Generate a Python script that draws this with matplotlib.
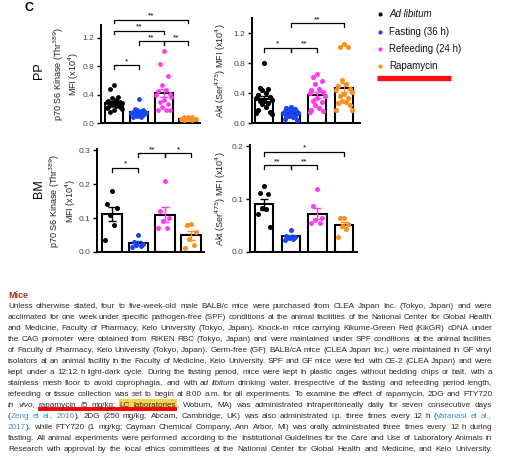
import math
import numpy as np
import matplotlib
matplotlib.use('Agg')
import matplotlib.pyplot as plt
from matplotlib.patches import Rectangle
from matplotlib.font_manager import FontProperties

plt.rcParams['font.family'] = ['Liberation Sans', 'DejaVu Sans']

groups = ['Ad libitum', 'Fasting (36 h)', 'Refeeding (24 h)', 'Rapamycin']
colors = ['#000000', '#1a45f0', '#ff3df2', '#ff8f1f']

# PP, p70 S6 kinase (x10^4)
pp_s6k_adlib = [0.53, 0.48, 0.36, 0.35, 0.33, 0.31, 0.30, 0.29, 0.28, 0.28,
                0.27, 0.26, 0.25, 0.24, 0.23, 0.22, 0.21, 0.20, 0.18, 0.15]
pp_s6k_fast = [0.34, 0.20, 0.19, 0.18, 0.17, 0.16, 0.15, 0.14, 0.14, 0.13,
               0.12, 0.11, 0.10, 0.09, 0.08]
pp_s6k_refeed = [1.01, 0.83, 0.66, 0.53, 0.47, 0.45, 0.41, 0.39, 0.37, 0.33,
                 0.30, 0.27, 0.22, 0.19, 0.19, 0.19]
pp_s6k_rapa = [0.09, 0.08, 0.08, 0.07, 0.07, 0.06, 0.06, 0.05, 0.05, 0.05, 0.04, 0.04]
pp_s6k_sig = [(0, 1, 0.81, '*'), (1, 2, 1.15, '**'), (2, 3, 1.15, '**'),
              (0, 2, 1.30, '**'), (0, 3, 1.455, '**')]

# PP, Akt (x10^4)
pp_akt_adlib = [0.80, 0.47, 0.46, 0.44, 0.40, 0.38, 0.35, 0.33, 0.31, 0.30,
                0.29, 0.27, 0.25, 0.22, 0.18, 0.15, 0.13, 0.12]
pp_akt_fast = [0.22, 0.20, 0.19, 0.18, 0.17, 0.16, 0.15, 0.14, 0.13, 0.12,
               0.11, 0.10, 0.09, 0.08, 0.06, 0.04]
pp_akt_refeed = [0.66, 0.62, 0.56, 0.52, 0.46, 0.44, 0.42, 0.40, 0.36, 0.34,
                 0.30, 0.28, 0.24, 0.20, 0.18, 0.16, 0.15]
pp_akt_rapa = [1.05, 1.02, 1.01, 0.58, 0.52, 0.49, 0.46, 0.44, 0.42, 0.39,
               0.36, 0.33, 0.30, 0.28, 0.27, 0.24, 0.18, 0.18]
pp_akt_sig = [(0, 1, 1.0, '*'), (1, 2, 1.0, '**'), (1, 3, 1.33, '**')]

# BM, p70 S6 kinase (x10^4)
bm_s6k_adlib = [0.18, 0.14, 0.13, 0.11, 0.08, 0.035]
bm_s6k_fast = [0.050, 0.030, 0.024, 0.020, 0.018, 0.016]
bm_s6k_refeed = [0.21, 0.12, 0.10, 0.09, 0.07, 0.07]
bm_s6k_rapa = [0.083, 0.080, 0.060, 0.038, 0.020, 0.012]
bm_s6k_sig = [(0, 1, 0.247, '*'), (1, 2, 0.29, '**'), (2, 3, 0.29, '*')]

# BM, Akt (x10^4)
bm_akt_adlib = [0.124, 0.111, 0.110, 0.083, 0.081, 0.072, 0.048]
bm_akt_fast = [0.042, 0.031, 0.029, 0.027, 0.025, 0.023]
bm_akt_refeed = [0.118, 0.086, 0.064, 0.060, 0.054, 0.054]
bm_akt_rapa = [0.064, 0.064, 0.053, 0.049, 0.043, 0.029]
bm_akt_sig = [(0, 1, 0.164, '**'), (1, 2, 0.164, '**'), (0, 3, 0.189, '*')]

s6k_label = 'p70 S6 Kinase (Thr$^{389}$)\nMFI (x10$^4$)'
akt_label = 'Akt (Ser$^{473}$) MFI (x10$^4$)'

W, H = 507, 458
fig = plt.figure(figsize=(W / 100, H / 100), dpi=100)


def px_axes(x0, y0, x1, y1):
    return fig.add_axes([x0 / W, 1 - y1 / H, (x1 - x0) / W, (y1 - y0) / H])


def swarm(n, half):
    pattern = np.array([0.0, -0.55, 0.55, -0.28, 0.28, -0.8, 0.8, -1.0, 1.0])
    return pattern[np.arange(n) % len(pattern)] * half


def panel(ax, series, ylim, yticks, ylabel, label_x, sig, xlim, bar_w, dot):
    for i, vals in enumerate(series):
        v = np.sort(np.array(vals))[::-1]
        m = v.mean()
        sem = v.std(ddof=1) / np.sqrt(len(v))
        ax.bar(i, m, width=bar_w, color='white', edgecolor='black', lw=1.5, zorder=1)
        ax.scatter(i + swarm(len(v), bar_w * 0.42), v, s=dot, color=colors[i],
                   lw=0, zorder=3, clip_on=False)
        ax.errorbar(i, m, yerr=sem, color=colors[i], capsize=3, lw=1, capthick=1, zorder=4)
    h = ylim[1] * 0.035
    for a, b, y, lab in sig:
        ax.plot([a, a, b, b], [y - h, y, y, y - h], color='black', lw=0.9, clip_on=False)
        ax.text((a + b) / 2, y + h * 0.05, lab, ha='center', va='bottom', fontsize=6,
                clip_on=False)
    ax.set_xlim(*xlim)
    ax.set_ylim(*ylim)
    ax.set_yticks(yticks)
    ax.set_yticklabels([f'{t:.1f}' for t in yticks])
    ax.set_xticks([])
    for s in ['top', 'right']:
        ax.spines[s].set_visible(False)
    for s in ['left', 'bottom']:
        ax.spines[s].set_linewidth(1.4)
    ax.tick_params(axis='y', direction='out', length=3, width=1, labelsize=6,
                   labelcolor='#444444', pad=2)
    ax.set_ylabel(ylabel, fontsize=6.5, color='#222222', linespacing=1.1)
    ax.yaxis.set_label_coords(label_x, 0.5)
    ax.patch.set_alpha(0)


ax1 = px_axes(101, 25, 200, 123)
panel(ax1, [pp_s6k_adlib, pp_s6k_fast, pp_s6k_refeed, pp_s6k_rapa], (0, 1.38),
      [0.0, 0.4, 0.8, 1.2], s6k_label, -0.20, pp_s6k_sig, (-0.53, 3.47), 0.72, 12)
ax2 = px_axes(252, 18, 360, 123)
panel(ax2, [pp_akt_adlib, pp_akt_fast, pp_akt_refeed, pp_akt_rapa], (0, 1.4),
      [0.0, 0.4, 0.8, 1.2], akt_label, -0.22, pp_akt_sig, (-0.45, 3.6), 0.68, 14)
ax3 = px_axes(97, 149, 204, 252)
panel(ax3, [bm_s6k_adlib, bm_s6k_fast, bm_s6k_refeed, bm_s6k_rapa], (0, 0.303),
      [0.0, 0.1, 0.2, 0.3], s6k_label, -0.18, bm_s6k_sig, (-0.57, 3.48), 0.75, 13)
ax4 = px_axes(250, 145, 357, 252)
panel(ax4, [bm_akt_adlib, bm_akt_fast, bm_akt_refeed, bm_akt_rapa], (0, 0.202),
      [0.0, 0.1, 0.2], akt_label, -0.205, bm_akt_sig, (-0.52, 3.48), 0.68, 13)

# overlay in pixel units for labels, legend and the methods text
ov = fig.add_axes([0, 0, 1, 1], zorder=-1)
ov.set_xlim(0, W)
ov.set_ylim(H, 0)
ov.axis('off')

ov.text(29, 8, 'C', fontsize=9, fontweight='bold', ha='center', va='center')
ov.text(39, 71, 'PP', fontsize=9, rotation=90, ha='center', va='center')
ov.text(39, 189, 'BM', fontsize=9, rotation=90, ha='center', va='center')

legend_y = [14, 32, 49, 66]
for lab, c, y in zip(groups, colors, legend_y):
    ov.scatter(380, y, s=9, color=c, lw=0)
    ov.text(389, y, lab, fontsize=7, va='center', color='#111111',
            style='italic' if lab == 'Ad libitum' else 'normal')
ov.plot([377, 451], [78, 78], color='#ff1010', lw=3.8, solid_capstyle='butt')

# methods paragraph
ov.text(8, 296, 'Mice', fontsize=6.5, fontweight='bold', color='#a93226', va='center')

para = [
    "Unless otherwise stated, four to five-week-old male BALB/c mice were purchased from CLEA Japan Inc. (Tokyo, Japan) and were",
    "acclimated for one week under specific pathogen-free (SPF) conditions at the animal facilities of the National Center for Global Health",
    "and Medicine, Faculty of Pharmacy, Keio University (Tokyo, Japan). Knock-in mice carrying Kikume-Green Red (KikGR) cDNA under",
    "the CAG promoter were obtained from RIKEN RBC (Tokyo, Japan) and were maintained under SPF conditions at the animal facilities",
    "of Faculty of Pharmacy, Keio University (Tokyo, Japan). Germ-free (GF) BALB/cA mice (CLEA Japan Inc.) were maintained in GF vinyl",
    "isolators at an animal facility in the Faculty of Medicine, Keio University. SPF and GF mice were fed with CE-2 (CLEA Japan) and were",
    "kept under a 12:12 h light-dark cycle. During the fasting period, mice were kept in plastic cages without bedding chips or bait, with a",
    "stainless mesh floor to avoid coprophagia, and with /ad /libitum drinking water. Irrespective of the fasting and refeeding period length,",
    "refeeding or tissue collection was set to begin at 8:00 a.m. for all experiments. To examine the effect of rapamycin, 2DG and FTY720",
    "/in /vivo, =rapamycin =(5 =mg/kg; #LC #laboratories +, Woburn, MA) was administrated intraperitoneally daily for seven consecutive days",
    "( +@Zeng @et @al., @2016 +), 2DG (250 mg/kg; Abcam, Cambridge, UK) was also administrated i.p. three times every 12 h ( +@Varanasi @et @al.,",
    "@2017 +), while FTY720 (1 mg/kg; Cayman Chemical Company, Ann Arbor, MI) was orally administrated three times every 12 h during",
    "fasting. All animal experiments were performed according to the Institutional Guidelines for the Care and Use of Laboratory Animals in",
    "Research with approval by the local ethics committees at the National Center for Global Health and Medicine, and Keio University.",
]


def parse(tok):
    attach = tok.startswith('+')
    if attach:
        tok = tok[1:]
    style = ''
    if len(tok) > 1 and tok[0] in '/@#=':
        style, tok = tok[0], tok[1:]
    return attach, style, tok


renderer = fig.canvas.get_renderer()


def metrics(txt, style, fs):
    prop = FontProperties(family=['Liberation Sans', 'DejaVu Sans'], size=fs,
                          style='italic' if style == '/' else 'normal')
    return renderer.get_text_width_height_descent(txt, prop, ismath=False)


fs0 = 6.0
left, right = 8, 492
target = right - left
space0 = metrics('a a', '', fs0)[0] - metrics('aa', '', fs0)[0]

lines = []
natural = []
for s in para:
    toks = [parse(t) for t in s.split(' ')]
    widths = [metrics(t[2], t[1], fs0)[0] for t in toks]
    nsp = sum(1 for k, t in enumerate(toks) if k > 0 and not t[0])
    lines.append((toks, nsp))
    natural.append(sum(widths) + nsp * space0 * 0.85)
fs = fs0 * target / max(natural)

hl, ul = [], []
for li, (toks, nsp) in enumerate(lines):
    base = round(305 + li * 11.0 + 3)
    m = [metrics(t[2], t[1], fs) for t in toks]
    gap = (target - sum(w for w, h, d in m)) / max(nsp, 1)
    x = left
    for k, ((attach, style, txt), (w, h, d)) in enumerate(zip(toks, m)):
        if k > 0 and not attach:
            x += gap
        color = '#3d8fd1' if style == '@' else '#2a2a2a'
        # Agg snaps each word's bitmap; shift so all glyph baselines share one row
        y = base + math.floor(h) - math.floor(h - d) - d
        ov.text(x, y, txt, fontsize=fs, color=color, va='baseline', ha='left',
                style='italic' if style == '/' else 'normal', zorder=3)
        if style == '#':
            hl.append((x, x + w, base - 3))
        if style in ('#', '='):
            ul.append((x, x + w, base - 3))
        x += w

if hl:
    x0 = min(s[0] for s in hl)
    x1 = max(s[1] for s in hl)
    yc = hl[0][2]
    ov.add_patch(Rectangle((x0 - 1, yc - 5), x1 - x0 + 2, 9, color='#f7d154', lw=0, zorder=1))
if ul:
    x0 = min(s[0] for s in ul)
    x1 = max(s[1] for s in ul)
    yc = ul[0][2]
    ov.plot([x0 - 1, x1 + 1], [yc + 5, yc + 5], color='#ff0000', lw=2.8,
            solid_capstyle='butt', zorder=2)

fig.savefig('out.png', dpi=100)
